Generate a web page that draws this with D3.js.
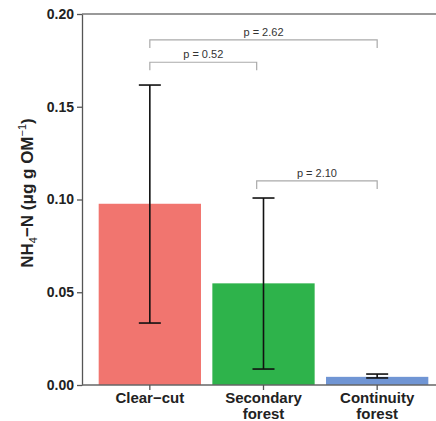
<!DOCTYPE html>
<html>
<head>
<meta charset="utf-8">
<script src="https://cdn.jsdelivr.net/npm/d3@7"></script>
<style>
  body { margin: 0; background: #fff; }
  text { font-family: "Liberation Sans", Arial, sans-serif; }
</style>
</head>
<body>
<div id="my_dataviz"></div>
<script>
// data
var categories = ["Clear\u2212cut", "Secondary\nforest", "Continuity\nforest"];
var means = [0.0977, 0.0548, 0.0044];
var errLow = [0.0334, 0.0086, 0.0038];
var errHigh = [0.1617, 0.1008, 0.0059];
var barColors = ["#F1756F", "#2EB34B", "#7095D4"];
var yTicks = [0, 0.05, 0.10, 0.15, 0.20];
// brackets: from / to (category index, fractional), level in data units, label
var bracketFrom = [0, 0, 0.94];
var bracketTo = [2, 0.94, 2];
var bracketLevel = [0.186, 0.174, 0.110];
var bracketLabel = ["p = 2.62", "p = 0.52", "p = 2.10"];

var width = 436, height = 421;
var margin = {top: 14, left: 82, bottom: 36};

var svg = d3.select("#my_dataviz")
  .append("svg")
    .attr("width", width)
    .attr("height", height);

var x = d3.scaleBand()
  .domain(d3.range(categories.length))
  .range([93, 434])
  .paddingInner(0.1)
  .paddingOuter(0.05);

var y = d3.scaleLinear()
  .domain([0, 0.2])
  .range([height - margin.bottom, margin.top]);

var cx = function(i) {
  // fractional index -> pixel position between band centers
  var a = Math.floor(i), f = i - a;
  var c0 = x(a) + x.bandwidth() / 2;
  if (f === 0) return c0;
  return c0 + f * x.step();
};

// top frame line
svg.append("line")
  .attr("x1", margin.left).attr("x2", width)
  .attr("y1", y(0.2)).attr("y2", y(0.2))
  .style("stroke", "#777").style("stroke-width", 1.5);

// bars
svg.selectAll("rect.bar")
  .data(means)
  .enter()
  .append("rect")
    .attr("class", "bar")
    .attr("x", function(d, i) { return x(i); })
    .attr("width", x.bandwidth())
    .attr("y", function(d) { return y(d); })
    .attr("height", function(d) { return y(0) - y(d); })
    .style("fill", function(d, i) { return barColors[i]; });

// y axis
var yAxis = svg.append("g")
  .attr("transform", "translate(" + margin.left + ",0)")
  .call(d3.axisLeft(y).tickValues(yTicks).tickFormat(d3.format(".2f")).tickSize(5).tickSizeOuter(0));
yAxis.select(".domain").style("stroke", "#555").style("stroke-width", 1.3);
yAxis.selectAll(".tick line").style("stroke", "#555").style("stroke-width", 1.3);
yAxis.selectAll(".tick text")
  .attr("x", -8)
  .style("font-size", "14px").style("font-weight", "bold").style("fill", "#222");

// x axis
var xAxis = svg.append("g")
  .attr("transform", "translate(0," + y(0) + ")");
xAxis.append("line")
  .attr("x1", margin.left).attr("x2", width)
  .style("stroke", "#666").style("stroke-width", 1.3);
categories.forEach(function(c, i) {
  var px = x(i) + x.bandwidth() / 2;
  xAxis.append("line")
    .attr("x1", px).attr("x2", px).attr("y1", 0).attr("y2", 5)
    .style("stroke", "#555").style("stroke-width", 1.3);
  var t = xAxis.append("text")
    .attr("x", px).attr("y", 18)
    .attr("text-anchor", "middle")
    .style("font-size", "15px").style("font-weight", "bold").style("fill", "#222");
  c.split("\n").forEach(function(line, k) {
    t.append("tspan").attr("x", px).attr("dy", k === 0 ? 0 : 16).text(line);
  });
});

// error bars
var capW = 11;
means.forEach(function(d, i) {
  var px = x(i) + x.bandwidth() / 2;
  var g = svg.append("g").style("stroke", "#111").style("stroke-width", 1.6);
  g.append("line").attr("x1", px).attr("x2", px).attr("y1", y(errLow[i])).attr("y2", y(errHigh[i]));
  g.append("line").attr("x1", px - capW).attr("x2", px + capW).attr("y1", y(errLow[i])).attr("y2", y(errLow[i]));
  g.append("line").attr("x1", px - capW).attr("x2", px + capW).attr("y1", y(errHigh[i])).attr("y2", y(errHigh[i]));
});

// significance brackets
bracketLabel.forEach(function(lab, k) {
  var x1 = cx(bracketFrom[k]), x2 = cx(bracketTo[k]), yy = y(bracketLevel[k]);
  svg.append("path")
    .attr("d", "M" + x1 + "," + (yy + 8) + "V" + yy + "H" + x2 + "V" + (yy + 8))
    .style("fill", "none").style("stroke", "#aaa").style("stroke-width", 1.2);
  svg.append("text")
    .attr("x", (x1 + x2) / 2).attr("y", yy - 4)
    .attr("text-anchor", "middle")
    .style("font-size", "11px").style("fill", "#333")
    .text(lab);
});

// y axis title
var title = svg.append("text")
  .attr("transform", "translate(33," + 193 + ") rotate(-90)")
  .attr("text-anchor", "middle")
  .style("font-size", "17px").style("font-weight", "bold").style("fill", "#222");
title.append("tspan").text("NH");
title.append("tspan").attr("dy", 4).style("font-size", "11px").style("font-weight", "normal").text("4");
title.append("tspan").attr("dy", -4).text("\u2212N (\u03bcg g OM");
title.append("tspan").attr("dy", -7).style("font-size", "11px").style("font-weight", "normal").text("\u22121");
title.append("tspan").attr("dy", 7).text(")");
</script>
</body>
</html>
